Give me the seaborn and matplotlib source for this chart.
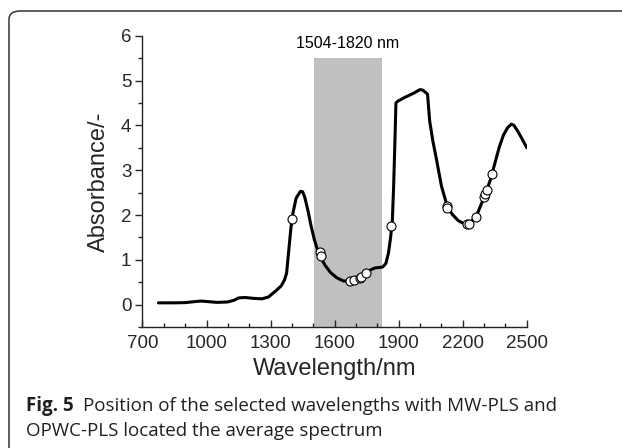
import numpy as np
import pandas as pd
import matplotlib
matplotlib.use("Agg")
import matplotlib.pyplot as plt
import seaborn as sns
from matplotlib.patches import FancyBboxPatch
from matplotlib.ticker import MultipleLocator

# ---- data ----
wavelength = [775, 800, 850, 900, 950, 975, 1000, 1050, 1100, 1130, 1150, 1180, 1220, 1260,
              1290, 1310, 1330, 1350, 1365, 1375, 1385, 1395, 1405, 1420, 1440, 1450, 1460,
              1475, 1490, 1505, 1520, 1535, 1555, 1580, 1610, 1640, 1670, 1695, 1720, 1745,
              1770, 1790, 1810, 1825, 1840, 1852, 1862, 1870, 1876, 1882, 1887, 1895, 1930,
              1970, 2000, 2012, 2025, 2035, 2045, 2060, 2077, 2100, 2127, 2150, 2180, 2210,
              2230, 2250, 2270, 2290, 2310, 2330, 2350, 2370, 2390, 2410, 2428, 2440, 2460,
              2480, 2500]
absorbance = [0.04, 0.04, 0.04, 0.045, 0.07, 0.08, 0.07, 0.05, 0.06, 0.10, 0.15, 0.16, 0.14, 0.13,
              0.17, 0.25, 0.33, 0.42, 0.55, 0.70, 1.20, 1.70, 2.05, 2.38, 2.53, 2.52, 2.40,
              2.10, 1.75, 1.45, 1.22, 1.05, 0.88, 0.72, 0.60, 0.53, 0.52, 0.55, 0.61, 0.70,
              0.78, 0.82, 0.83, 0.84, 0.92, 1.15, 1.50, 1.85, 2.60, 3.60, 4.50, 4.54, 4.63,
              4.72, 4.80, 4.79, 4.74, 4.70, 4.10, 3.65, 3.24, 2.65, 2.20, 2.02, 1.87, 1.80,
              1.82, 1.90, 2.05, 2.28, 2.52, 2.80, 3.15, 3.50, 3.78, 3.95, 4.03, 4.00, 3.85,
              3.68, 3.50]

sel_wavelength = [1402, 1530, 1534, 1670, 1690, 1718, 1724, 1745, 1866, 2125, 2128,
                  2222, 2228, 2262, 2300, 2305, 2312, 2339]
sel_absorbance = [1.91, 1.18, 1.08, 0.53, 0.55, 0.60, 0.62, 0.70, 1.75, 2.20, 2.15,
                  1.80, 1.81, 1.95, 2.40, 2.47, 2.57, 2.91]

band = [1504, 1820]
band_label = "1504-1820 nm"
x_ticks = [700, 1000, 1300, 1600, 1900, 2200, 2500]
y_ticks = [0, 1, 2, 3, 4, 5, 6]

spec = pd.DataFrame({"Wavelength": wavelength, "Absorbance": absorbance})
sel = pd.DataFrame({"Wavelength": sel_wavelength, "Absorbance": sel_absorbance})

# ---- figure ----
sns.set_theme(style="ticks")
plt.rcParams["font.family"] = ["Liberation Sans", "DejaVu Sans"]

fig = plt.figure(figsize=(6.22, 4.48), dpi=100)
fig.patch.set_facecolor("white")
ax = fig.add_axes([0.229, 0.27, 0.618, 0.650])

# frame around figure (rounded top-left corner, running off right/bottom)
frame = FancyBboxPatch((9 / 622, -0.2), 1.2, (1 - 11 / 448) + 0.2,
                       boxstyle="round,pad=0,rounding_size=0.018",
                       transform=fig.transFigure, facecolor="none",
                       edgecolor="#333333", linewidth=1.1, zorder=0)
fig.patches.append(frame)

ax.axvspan(band[0], band[1], ymin=0, ymax=(5.5 + 0.5) / 6.5, color="#c0c0c0", lw=0, zorder=0)
ax.text(sum(band) / 2, 5.83, band_label, ha="center", va="center", fontsize=11.5, color="black")

sns.lineplot(data=spec, x="Wavelength", y="Absorbance", ax=ax, color="black",
             linewidth=2.2, sort=False, zorder=2)
sns.scatterplot(data=sel, x="Wavelength", y="Absorbance", ax=ax, color="white",
                edgecolor="black", linewidth=0.8, s=42, zorder=3)

ax.set_xlim(700, 2500)
ax.set_ylim(-0.5, 6)
ax.set_xticks(x_ticks)
ax.set_yticks(y_ticks)
ax.xaxis.set_minor_locator(MultipleLocator(100))
ax.yaxis.set_minor_locator(MultipleLocator(0.5))
ax.tick_params(axis="x", which="major", direction="in", length=5, width=1, labelsize=13.5, pad=6)
ax.tick_params(axis="x", which="minor", direction="in", length=3, width=1)
ax.tick_params(axis="y", which="major", direction="out", length=5, width=1, labelsize=13.5, pad=3)
ax.tick_params(axis="y", which="minor", direction="out", length=3, width=1)
ax.set_xlabel("Wavelength/nm", fontsize=17, labelpad=4)
ax.set_ylabel("Absorbance/-", fontsize=17, labelpad=8)
for s in ["top", "right"]:
    ax.spines[s].set_visible(False)
for s in ["left", "bottom"]:
    ax.spines[s].set_linewidth(1.0)
    ax.spines[s].set_color("#222222")
ax.set_facecolor("none")

# caption
cap_font = ["Open Sans", "DejaVu Sans"]
cap_size = 13.5
t1 = fig.text(26 / 622, 1 - 411 / 448, "Fig. 5", fontsize=cap_size, fontweight="bold",
              family=cap_font, va="baseline", ha="left", color="#231f20")
fig.canvas.draw()
bb = t1.get_window_extent()
x2 = (bb.x1 + 9) / fig.bbox.width
fig.text(x2, 1 - 411 / 448, "Position of the selected wavelengths with MW-PLS and",
         fontsize=cap_size, family=cap_font, va="baseline", ha="left", color="#231f20")
fig.text(26 / 622, 1 - 436 / 448, "OPWC-PLS located the average spectrum",
         fontsize=cap_size, family=cap_font, va="baseline", ha="left", color="#231f20")

fig.savefig("out.png", dpi=100, facecolor="white")
